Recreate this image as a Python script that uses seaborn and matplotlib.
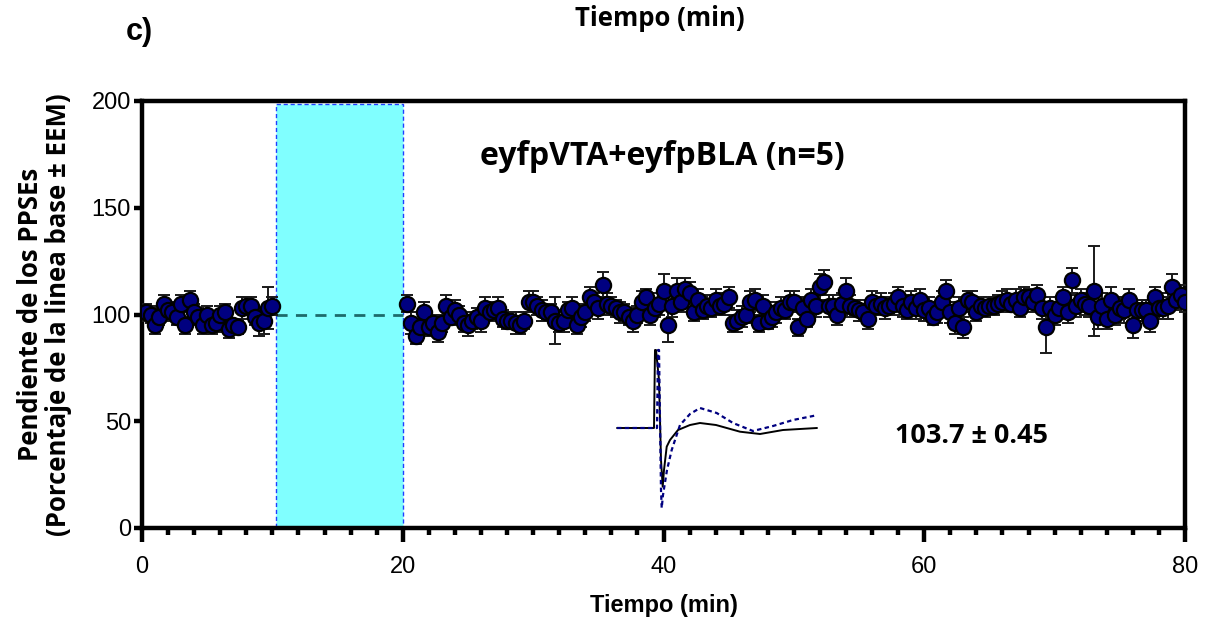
import numpy as np
import pandas as pd
import matplotlib
matplotlib.use('Agg')
import matplotlib.pyplot as plt
import seaborn as sns
from matplotlib.ticker import MultipleLocator

# baseline (0-10 min), one point every 20 s
base_vals = [101, 100, 95, 99, 105, 102, 101, 99, 105, 95,
             107, 101, 99, 95, 100, 95, 96, 100, 101, 93,
             95, 94, 103, 104, 104, 99, 96, 97, 103, 104]
base_err = [4, 4, 4, 4, 4, 4, 4, 4, 4, 4,
            4, 4, 4, 4, 4, 4, 4, 4, 4, 4,
            3, 3, 5, 4, 4, 4, 6, 6, 10, 4]

# after stimulation (20-80 min)
post_vals = [105, 96, 90, 94, 101, 94, 96, 92, 96, 104,
             99, 102, 100, 96, 95, 97, 99, 97, 103, 101,
             102, 103, 98, 97, 97, 96, 95, 97, 106, 106,
             104, 102, 101, 101, 97, 96, 97, 102, 103, 95,
             99, 101, 108, 106, 103, 114, 105, 104, 103, 101,
             101, 99, 97, 100, 106, 108, 100, 103,
             105, 111, 95, 104, 111, 106, 112, 110, 101, 107,
             102, 104, 103, 107, 104, 105, 108, 96, 97, 99,
             100, 106, 107, 96, 104, 97, 99, 101, 103, 102,
             106, 106, 94, 103, 98, 107, 104, 113, 115, 104,
             104, 100, 105, 111, 104, 103, 102, 101, 98, 106,
             104, 105, 103, 104, 105, 108, 104, 102, 106, 103,
             107, 102, 103, 99, 101, 106, 111, 101, 96, 103,
             94, 107, 106, 101, 104, 103, 104, 104, 105, 106,
             107, 105, 107, 103, 108, 108, 106, 109, 103, 94,
             103, 100, 103, 108, 101, 116, 104, 107, 105, 104,
             111, 99, 104, 98, 107, 100, 103, 102, 107, 95,
             102, 102, 102, 97, 108, 103, 103, 104, 113, 107,
             109, 106]
post_err = [4, 5, 4, 4, 5, 4, 4, 5, 4, 5,
            4, 5, 4, 4, 5, 4, 4, 5, 5, 4,
            4, 5, 4, 4, 4, 5, 4, 4, 5, 5,
            4, 5, 4, 4, 11, 4, 5, 4, 5, 4,
            5, 4, 5, 4, 5, 6, 5, 4, 4, 5,
            4, 4, 5, 4, 5, 4, 5, 4,
            5, 8, 8, 5, 6, 5, 5, 5, 4, 5,
            4, 5, 4, 5, 4, 5, 5, 4, 5, 5,
            4, 5, 5, 4, 5, 4, 5, 5, 5, 4,
            5, 5, 4, 5, 4, 5, 5, 6, 6, 5,
            5, 5, 5, 6, 5, 4, 5, 4, 5, 5,
            4, 5, 5, 4, 5, 5, 5, 4, 5, 5,
            5, 5, 5, 4, 5, 5, 5, 5, 5, 5,
            5, 4, 5, 4, 4, 4, 4, 4, 4, 5,
            5, 4, 5, 4, 5, 4, 5, 5, 5, 12,
            5, 5, 5, 5, 5, 6, 5, 5, 5, 5,
            21, 6, 6, 5, 6, 5, 5, 6, 5, 6,
            5, 5, 5, 5, 5, 5, 5, 6, 6, 5,
            5, 5]

# example traces (inset, arbitrary units)
solid_x = [2, 39, 40, 41, 44, 46, 47.7, 49, 51.7, 55, 63, 75, 85, 101, 125, 145, 168, 185, 202]
solid_y = [0, 0, 78, 78, 48, -32, -58.7, -42, -18.7, -12, -2, 3, 5, 3, -3.7, -6, -2, -1, 0]
dash_x = [2, 39, 42, 43, 44, 45, 46, 46.7, 48, 52, 56.7, 65, 75, 85, 101.7, 118, 138, 158, 178, 198, 202]
dash_y = [0, 0, 0, 78, 78, 8, -62, -80, -67, -42, -22, 3, 14, 20, 15, 5, -3, 2, 8, 12, 13]

base_t = np.arange(1, len(base_vals) + 1) / 3
post_t = 20 + np.arange(1, len(post_vals) + 1) / 3
df = pd.DataFrame({
    'Tiempo': np.concatenate([base_t, post_t]),
    'Pendiente': base_vals + post_vals,
    'EEM': base_err + post_err,
})

sns.set_theme(style="ticks")
plt.rcParams['font.family'] = ['Liberation Sans', 'DejaVu Sans']
plt.rcParams['text.color'] = 'black'
plt.rcParams['axes.labelcolor'] = 'black'
plt.rcParams['xtick.color'] = 'black'
plt.rcParams['ytick.color'] = 'black'
OPEN = ['Open Sans', 'DejaVu Sans']

fig = plt.figure(figsize=(12.09, 6.19), dpi=100)
ax = fig.add_axes([142 / 1209, 1 - 528 / 619, (1185 - 142) / 1209, (528 - 101) / 619])

# light-stimulation window
ax.axvspan(10.3, 20, ymin=0, ymax=198.5 / 200, facecolor='#80ffff', edgecolor='#2040ff',
           linestyle=(0, (3, 2)), linewidth=1.0, zorder=1)
ax.plot([10.3, 20], [100, 100], color='#1d6b6b', linestyle=(0, (4, 3)), linewidth=2, zorder=2)

ax.errorbar(df['Tiempo'], df['Pendiente'], yerr=df['EEM'], fmt='none', ecolor='#1a1a1a',
            elinewidth=1.4, capsize=4.5, capthick=1.4, zorder=3)
sns.scatterplot(data=df, x='Tiempo', y='Pendiente', ax=ax, s=120, color='#000080',
                edgecolor='black', linewidth=1.6, zorder=4, legend=False)

ax.set_xlim(0, 80)
ax.set_ylim(0, 200)
ax.xaxis.set_major_locator(MultipleLocator(20))
ax.xaxis.set_minor_locator(MultipleLocator(2))
ax.yaxis.set_major_locator(MultipleLocator(50))
for s in ax.spines.values():
    s.set_linewidth(3.2)
    s.set_color('black')
ax.tick_params(axis='x', which='major', length=10, width=3.2, labelsize=17, pad=10)
ax.tick_params(axis='x', which='minor', length=5, width=3.2)
ax.tick_params(axis='y', which='major', length=6, width=3.2, labelsize=17, pad=2)

ax.set_xlabel('Tiempo (min)', fontsize=17, fontweight='bold', labelpad=12)
ax.set_ylabel('Pendiente de los PPSEs\n(Porcentaje de la linea base ± EEM)', fontsize=18.5,
              fontweight='bold', family=OPEN, labelpad=14, linespacing=1.05)

ax.text(39.9, 174, 'eyfpVTA+eyfpBLA (n=5)', ha='center', va='center', fontsize=23,
        fontweight='bold', family=OPEN)
ax.text(63.6, 43, '103.7 ± 0.45', ha='center', va='center', fontsize=19.5,
        fontweight='bold', family=OPEN)

fig.text(660 / 1209, 1 - 18 / 619, 'Tiempo (min)', ha='center', va='center', fontsize=18.5,
         fontweight='bold', family=OPEN)
fig.text(139 / 1209, 1 - 32 / 619, 'c)', ha='center', va='center', fontsize=22, fontweight='bold')

# inset with example traces
ins = fig.add_axes([615 / 1209, 1 - 513 / 619, 205 / 1209, 165 / 619])
ins.plot(solid_x, solid_y, color='black', linewidth=1.4)
ins.plot(dash_x, dash_y, color='#000080', linewidth=1.6, linestyle=(0, (2, 1.5)))
ins.set_xlim(0, 205)
ins.set_ylim(-85, 80)
ins.axis('off')

fig.savefig('out.png', dpi=100)
